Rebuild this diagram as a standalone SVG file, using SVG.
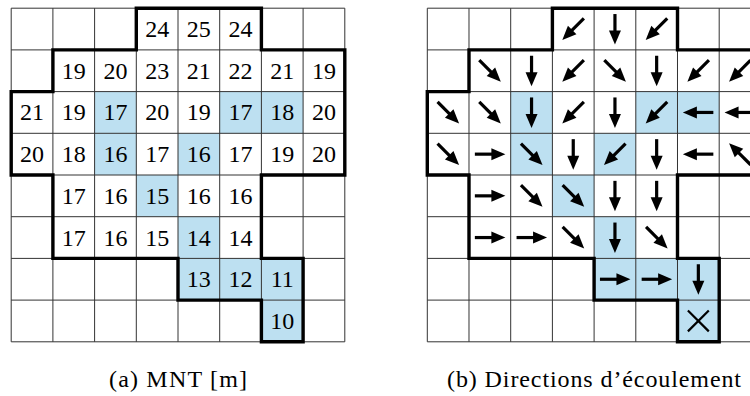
<svg xmlns="http://www.w3.org/2000/svg" xmlns:xlink="http://www.w3.org/1999/xlink" width="750" height="396" viewBox="0 0 750 396">
<style>
.bg{fill:#ffffff}
.blue{fill:#bde0f1}
.thin{fill:none;stroke:#333;stroke-width:1}
.thick{fill:none;stroke:#000;stroke-width:3.4;stroke-linejoin:miter;stroke-linecap:square}
.n,.cap{font-family:"Liberation Serif","DejaVu Serif","Times New Roman",serif;font-size:24px;fill:#000;text-anchor:middle}
.x{stroke:#000;stroke-width:2.2;fill:none}
</style>
<defs>
  <g id="base">
    <g class="blue">
      <rect x="83.4" y="83.4" width="41.7" height="41.7"/>
      <rect x="208.5" y="83.4" width="41.7" height="41.7"/>
      <rect x="250.2" y="83.4" width="41.7" height="41.7"/>
      <rect x="83.4" y="125.1" width="41.7" height="41.7"/>
      <rect x="166.8" y="125.1" width="41.7" height="41.7"/>
      <rect x="125.1" y="166.8" width="41.7" height="41.7"/>
      <rect x="166.8" y="208.5" width="41.7" height="41.7"/>
      <rect x="166.8" y="250.2" width="41.7" height="41.7"/>
      <rect x="208.5" y="250.2" width="41.7" height="41.7"/>
      <rect x="250.2" y="250.2" width="41.7" height="41.7"/>
      <rect x="250.2" y="291.9" width="41.7" height="41.7"/>
    </g>
    <path class="thin" d="M0,0V333.6M41.7,0V333.6M83.4,0V333.6M125.1,0V333.6M166.8,0V333.6M208.5,0V333.6M250.2,0V333.6M291.9,0V333.6M333.6,0V333.6M0,0H333.6M0,41.7H333.6M0,83.4H333.6M0,125.1H333.6M0,166.8H333.6M0,208.5H333.6M0,250.2H333.6M0,291.9H333.6M0,333.6H333.6"/>
    <path class="thick" d="M125.1,0H250.2V41.7H333.6V166.8H250.2V250.2H291.9V333.6H250.2V291.9H166.8V250.2H41.7V166.8H0V83.4H41.7V41.7H125.1Z"/>
  </g>
  <g id="a">
    <path d="M-15,0H3" stroke="#000" stroke-width="3.2" fill="none"/>
    <path d="M15.5,0L1.5,-6L1.5,6Z" fill="#000"/>
  </g>
</defs>
<rect class="bg" x="0" y="0" width="750" height="396"/>

<g id="panel-a" transform="translate(11.2,8.2)">
  <use xlink:href="#base" href="#base"/>
  <g id="values">
    <text class="n" x="145.95" y="28.85">24</text>
    <text class="n" x="187.65" y="28.85">25</text>
    <text class="n" x="229.35" y="28.85">24</text>

    <text class="n" x="62.55" y="70.55">19</text>
    <text class="n" x="104.25" y="70.55">20</text>
    <text class="n" x="145.95" y="70.55">23</text>
    <text class="n" x="187.65" y="70.55">21</text>
    <text class="n" x="229.35" y="70.55">22</text>
    <text class="n" x="271.05" y="70.55">21</text>
    <text class="n" x="312.75" y="70.55">19</text>

    <text class="n" x="20.85" y="112.25">21</text>
    <text class="n" x="62.55" y="112.25">19</text>
    <text class="n" x="104.25" y="112.25">17</text>
    <text class="n" x="145.95" y="112.25">20</text>
    <text class="n" x="187.65" y="112.25">19</text>
    <text class="n" x="229.35" y="112.25">17</text>
    <text class="n" x="271.05" y="112.25">18</text>
    <text class="n" x="312.75" y="112.25">20</text>

    <text class="n" x="20.85" y="153.95">20</text>
    <text class="n" x="62.55" y="153.95">18</text>
    <text class="n" x="104.25" y="153.95">16</text>
    <text class="n" x="145.95" y="153.95">17</text>
    <text class="n" x="187.65" y="153.95">16</text>
    <text class="n" x="229.35" y="153.95">17</text>
    <text class="n" x="271.05" y="153.95">19</text>
    <text class="n" x="312.75" y="153.95">20</text>

    <text class="n" x="62.55" y="195.65">17</text>
    <text class="n" x="104.25" y="195.65">16</text>
    <text class="n" x="145.95" y="195.65">15</text>
    <text class="n" x="187.65" y="195.65">16</text>
    <text class="n" x="229.35" y="195.65">16</text>

    <text class="n" x="62.55" y="237.35">17</text>
    <text class="n" x="104.25" y="237.35">16</text>
    <text class="n" x="145.95" y="237.35">15</text>
    <text class="n" x="187.65" y="237.35">14</text>
    <text class="n" x="229.35" y="237.35">14</text>

    <text class="n" x="187.65" y="279.05">13</text>
    <text class="n" x="229.35" y="279.05">12</text>
    <text class="n" x="271.05" y="279.05">11</text>

    <text class="n" x="271.05" y="320.75">10</text>
  </g>
</g>

<g id="panel-b" transform="translate(427.3,8.2)">
  <use xlink:href="#base" href="#base"/>
  <g id="arrows">
    <use href="#a" xlink:href="#a" transform="translate(145.95,20.85) rotate(135)"/>
    <use href="#a" xlink:href="#a" transform="translate(187.65,20.85) rotate(90)"/>
    <use href="#a" xlink:href="#a" transform="translate(229.35,20.85) rotate(135)"/>

    <use href="#a" xlink:href="#a" transform="translate(62.55,62.55) rotate(45)"/>
    <use href="#a" xlink:href="#a" transform="translate(104.25,62.55) rotate(90)"/>
    <use href="#a" xlink:href="#a" transform="translate(145.95,62.55) rotate(135)"/>
    <use href="#a" xlink:href="#a" transform="translate(187.65,62.55) rotate(45)"/>
    <use href="#a" xlink:href="#a" transform="translate(229.35,62.55) rotate(90)"/>
    <use href="#a" xlink:href="#a" transform="translate(271.05,62.55) rotate(135)"/>
    <use href="#a" xlink:href="#a" transform="translate(312.75,62.55) rotate(135)"/>

    <use href="#a" xlink:href="#a" transform="translate(20.85,104.25) rotate(45)"/>
    <use href="#a" xlink:href="#a" transform="translate(62.55,104.25) rotate(45)"/>
    <use href="#a" xlink:href="#a" transform="translate(104.25,104.25) rotate(90)"/>
    <use href="#a" xlink:href="#a" transform="translate(145.95,104.25) rotate(135)"/>
    <use href="#a" xlink:href="#a" transform="translate(187.65,104.25) rotate(90)"/>
    <use href="#a" xlink:href="#a" transform="translate(229.35,104.25) rotate(135)"/>
    <use href="#a" xlink:href="#a" transform="translate(271.05,104.25) rotate(180)"/>
    <use href="#a" xlink:href="#a" transform="translate(312.75,104.25) rotate(180)"/>

    <use href="#a" xlink:href="#a" transform="translate(20.85,145.95) rotate(45)"/>
    <use href="#a" xlink:href="#a" transform="translate(62.55,145.95) rotate(0)"/>
    <use href="#a" xlink:href="#a" transform="translate(104.25,145.95) rotate(45)"/>
    <use href="#a" xlink:href="#a" transform="translate(145.95,145.95) rotate(90)"/>
    <use href="#a" xlink:href="#a" transform="translate(187.65,145.95) rotate(135)"/>
    <use href="#a" xlink:href="#a" transform="translate(229.35,145.95) rotate(90)"/>
    <use href="#a" xlink:href="#a" transform="translate(271.05,145.95) rotate(180)"/>
    <use href="#a" xlink:href="#a" transform="translate(312.75,145.95) rotate(225)"/>

    <use href="#a" xlink:href="#a" transform="translate(62.55,187.65) rotate(0)"/>
    <use href="#a" xlink:href="#a" transform="translate(104.25,187.65) rotate(45)"/>
    <use href="#a" xlink:href="#a" transform="translate(145.95,187.65) rotate(45)"/>
    <use href="#a" xlink:href="#a" transform="translate(187.65,187.65) rotate(90)"/>
    <use href="#a" xlink:href="#a" transform="translate(229.35,187.65) rotate(90)"/>

    <use href="#a" xlink:href="#a" transform="translate(62.55,229.35) rotate(0)"/>
    <use href="#a" xlink:href="#a" transform="translate(104.25,229.35) rotate(0)"/>
    <use href="#a" xlink:href="#a" transform="translate(145.95,229.35) rotate(45)"/>
    <use href="#a" xlink:href="#a" transform="translate(187.65,229.35) rotate(90)"/>
    <use href="#a" xlink:href="#a" transform="translate(229.35,229.35) rotate(45)"/>

    <use href="#a" xlink:href="#a" transform="translate(187.65,271.05) rotate(0)"/>
    <use href="#a" xlink:href="#a" transform="translate(229.35,271.05) rotate(0)"/>
    <use href="#a" xlink:href="#a" transform="translate(271.05,271.05) rotate(90)"/>

    <path class="x" d="M260.6,302.3L281.5,323.2M281.5,302.3L260.6,323.2"/>
  </g>
</g>

<g id="captions">
<text id="cap-a" class="cap" x="178" y="387" textLength="138" lengthAdjust="spacing">(a) MNT [m]</text>
<text id="cap-b" class="cap" x="594" y="387" textLength="294" lengthAdjust="spacing">(b) Directions d’écoulement</text>
</g>
</svg>
